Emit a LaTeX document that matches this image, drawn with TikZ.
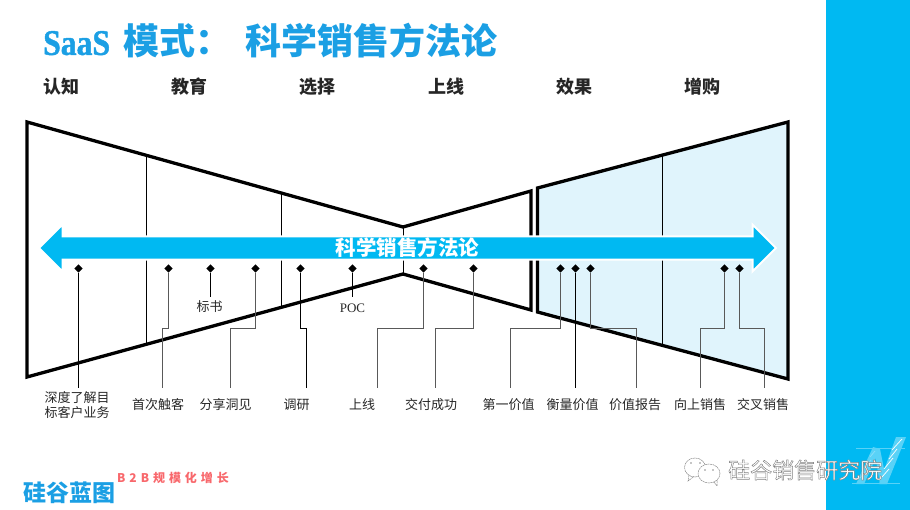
\documentclass[tikz,border=0pt]{standalone}
\usepackage{fontspec}
\setmainfont{Liberation Serif}
\newfontfamily\cjk{Noto Sans CJK SC}
\newfontfamily\cjkspaced[LetterSpace=33]{Noto Sans CJK SC}
\newfontfamily\heavyserif[FakeBold=1.3,FakeStretch=0.88]{Liberation Serif Bold}
\usetikzlibrary{arrows.meta,shapes.arrows,shapes.geometric}
\definecolor{sgblue}{HTML}{00B9F2}
\definecolor{titleblue}{HTML}{1B9FE4}
\definecolor{paleblue}{HTML}{E0F4FC}
\definecolor{sloganred}{HTML}{F8686C}
\colorlet{markfill}{sgblue!65!white}
\colorlet{markline}{sgblue!45!white}
\tikzset{
  stage/.style={anchor=west,font=\cjk\bfseries\fontsize{18}{18}\selectfont,text=black!85,inner sep=0pt},
  item/.style={font=\cjk\fontsize{13}{15}\selectfont,text=black!85,align=center,inner sep=0pt},
  funnel/.style={line width=3.3pt,line join=miter},
  divider/.style={line width=1pt},
  dot/.style={diamond,fill=black,inner sep=0pt,minimum size=8.5pt},
  lead/.style={line width=1pt},
  greylead/.style={line width=1pt,black!65},
  wave/.style={line width=0.5pt,black!45,dash pattern=on 2pt off 0.6pt},
}
\begin{document}
\begin{tikzpicture}[x=1pt,y=-1pt]
\useasboundingbox (0,0) rectangle (910,510);
\fill[sgblue] (826,0) rectangle (910,510);

% title and stages
\node[anchor=west,inner sep=0pt,text=titleblue] (title) at (43,41) {\heavyserif\fontsize{36}{36}\selectfont SaaS\hspace{13pt}\cjk\bfseries 模式：\hspace{14pt}科学销售方法论};
\node[stage] (aware) at (43,87) {认知};
\node[stage] (educate) at (171,87) {教育};
\node[stage] (choose) at (299,87) {选择};
\node[stage] (golive) at (428,87) {上线};
\node[stage] (effect) at (556,87) {效果};
\node[stage] (upsell) at (684,87) {增购};

% funnels
\fill[paleblue] (537.5,188) -- (788,122) -- (788,379) -- (537.5,312) -- cycle;
\draw[funnel] (403,227) -- (27,122) -- (27,377) -- (403,274) -- (531,310) -- (531,191) -- cycle;
\draw[funnel] (537.5,188) -- (788,122) -- (788,379) -- (537.5,312) -- cycle;
\draw[divider] (146.5,156) -- (146.5,343);
\draw[divider] (281,193) -- (281,307);
\draw[divider] (403,227) -- (403,274);
\draw[divider] (662,155) -- (662,347);

% main arrow
\node[shape=double arrow,draw=white,line width=2pt,fill=sgblue,minimum width=47pt,double arrow head extend=11pt,double arrow tip angle=90,minimum height=737pt,inner sep=0pt,text=white,font=\cjk\bfseries\fontsize{20.5}{20.5}\selectfont] (method) at (407.5,248) {科学销售方法论};

% diamonds
\node[dot] (d1) at (78.5,268.5) {};
\node[dot] (d2) at (168.5,268.5) {};
\node[dot] (d3) at (210.5,268.5) {};
\node[dot] (d4) at (255.5,268.5) {};
\node[dot] (d5) at (300.5,268.5) {};
\node[dot] (d6) at (352.5,268.5) {};
\node[dot] (d7) at (423.5,268.5) {};
\node[dot] (d8) at (473.5,268.5) {};
\node[dot] (d9) at (560.5,268.5) {};
\node[dot] (d10) at (575.5,268.5) {};
\node[dot] (d11) at (590.5,268.5) {};
\node[dot] (d12) at (724.5,268.5) {};
\node[dot] (d13) at (739.5,268.5) {};

% labels
\node[item] (l1) at (77,405) {深度了解目\\标客户业务};
\node[item] (l2) at (158,405) {首次触客};
\node[item] (l3) at (225.5,405) {分享洞见};
\node[item] (l4) at (296.5,405) {调研};
\node[item] (l5) at (362,405) {上线};
\node[item] (l6) at (431,405) {交付成功};
\node[item] (l7) at (508.5,405) {第一价值};
\node[item] (l8) at (572.5,405) {衡量价值};
\node[item] (l9) at (635,405) {价值报告};
\node[item] (l10) at (700,405) {向上销售};
\node[item] (l11) at (763,405) {交叉销售};
\node[item] (tender) at (209.5,307) {标书};
\node[item,font=\fontsize{13}{14}\selectfont] (poc) at (352.5,308) {POC};

% free ends above the labels
\coordinate (e1) at (78.5,388);
\coordinate (e2) at (162.5,388);
\coordinate (e3) at (230.5,388);
\coordinate (e4) at (306.5,388);
\coordinate (e5) at (377.5,388);
\coordinate (e6) at (435.5,388);
\coordinate (e7) at (510.5,388);
\coordinate (e8) at (575.5,388);
\coordinate (e9) at (636.5,388);
\coordinate (e10) at (700.5,388);
\coordinate (e11) at (764.5,388);
\coordinate (e12) at (210.5,297);
\coordinate (e13) at (352.5,297);

% leaders
\draw[lead] (d1) -- (e1);
\draw[greylead] (d2) -- ++(0,60) -| (e2);
\draw[lead] (d3) -- (e12);
\draw[greylead] (d4) -- ++(0,60) -| (e3);
\draw[lead] (d5) -- ++(0,60) -| (e4);
\draw[lead] (d6) -- (e13);
\draw[greylead] (d7) -- ++(0,60) -| (e5);
\draw[greylead] (d8) -- ++(0,60) -| (e6);
\draw[greylead] (d9) -- ++(0,60) -| (e7);
\draw[lead] (d10) -- (e8);
\draw[greylead] (d11) -- ++(0,60) -| (e9);
\draw[greylead] (d12) -- ++(0,60) -| (e10);
\draw[greylead] (d13) -- ++(0,60) -| (e11);

% brand
\node[anchor=west,inner sep=0pt,text=titleblue,font=\cjk\bfseries\fontsize{23}{23}\selectfont] (brand) at (23,493) {硅谷蓝图};
\node[anchor=west,inner sep=0pt,text=sloganred,font=\cjkspaced\bfseries\fontsize{12}{12}\selectfont] (slogan) at (117,478) {B2B规模化增长};

% watermark
\draw[markfill,line width=0.5pt] (852,483) -- (900,483) (856,448) -- (905,448);
\fill[markfill] (879,484) -- (887,484) -- (906,437) -- (896,437) -- cycle;
\fill[markfill] (856,484) -- (864,484) -- (880,449) -- (873,447) -- cycle;
\fill[markfill] (874,449) -- (880,449) -- (887,484) -- (880,484) -- cycle;
\draw[white,line width=0.7pt] (882,477) -- (889,469) (884,469) -- (893,458) (889,459) -- (897,449) (892,450) -- (902,439);
\draw[markline,line width=0.7pt] (860,478) -- (866,471) (865,468) -- (871,460) (870,457) -- (875,451);
\draw[wave] (695,467.5) ellipse (10.5pt and 9.5pt);
\draw[wave] (689,475) -- (688,481) -- (694,476.5);
\draw[wave,fill=white] (709,473.5) ellipse (11pt and 9.5pt);
\draw[wave] (714,482) -- (717,486) -- (717,480);
\fill[black!45] (691,463) circle (0.9pt) (700,463) circle (0.9pt) (705,470) circle (0.9pt) (713,470) circle (0.9pt);
\node[anchor=west,inner sep=0pt,font=\cjk\fontsize{22}{22}\selectfont] (mark) at (728,470) {\special{pdf:code 1 1 1 rg 0.5 0.5 0.5 RG 2 Tr 0.45 w}硅谷销售研究院};
\end{tikzpicture}
\end{document}
